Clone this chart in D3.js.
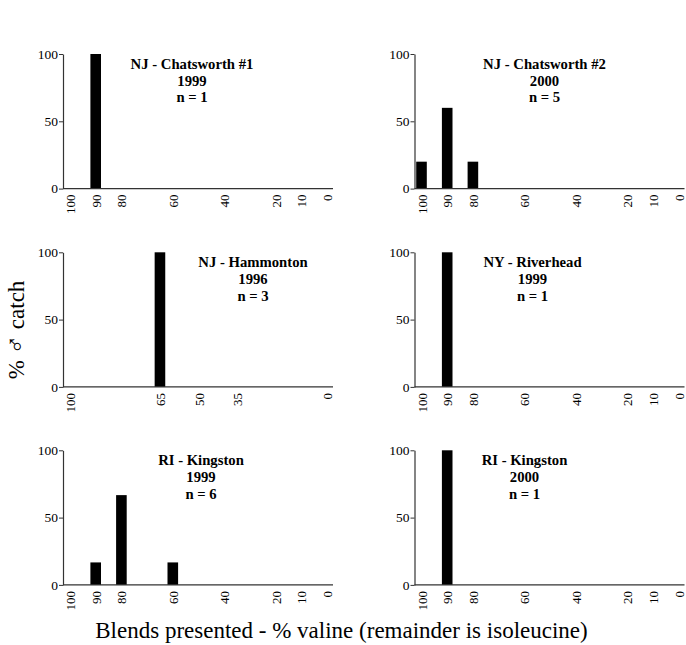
<!DOCTYPE html>
<html>
<head>
<meta charset="utf-8">
<script src="https://cdn.jsdelivr.net/npm/d3@7"></script>
<style>
  html, body { margin: 0; padding: 0; background: #fff; }
  svg { display: block; }
  text { font-family: "Liberation Serif", "Times New Roman", serif; fill: #000; }
</style>
</head>
<body>
<svg id="chart" width="686" height="645"></svg>
<script>
// --- data ---
const siteNames = ["NJ - Chatsworth #1", "NJ - Chatsworth #2", "NJ - Hammonton", "NY - Riverhead", "RI - Kingston", "RI - Kingston"];
const siteYears = ["1999", "2000", "1996", "1999", "1999", "2000"];
const siteN = [1, 5, 3, 1, 6, 1];
const standardBlends = [100, 90, 80, 60, 40, 20, 10, 0];
const hammontonBlends = [100, 65, 50, 35, 0];
const panelBlends = [[90], [100, 90, 80], [65], [90], [90, 80, 60], [90]];
const panelCatch = [[100], [20, 60, 20], [100], [100], [16.7, 66.7, 16.7], [100]];
const catchTicks = [0, 50, 100];

// --- layout ---
const colX = [63, 414.5];
const rowTop = [54, 252.3, 450.3];
const plotH = 134.6;
const axisLen = 270;
const titleDx = [129, 130, 190, 118, 138, 110];

const svg = d3.select("#chart");

siteNames.forEach((name, i) => {
    const col = i % 2, row = Math.floor(i / 2);
    const g = svg.append("g").attr("transform", `translate(${colX[col]},${rowTop[row]})`);

    const x = d3.scaleLinear().domain([100, 0]).range([7, 264]);
    const y = d3.scaleLinear().domain([0, 100]).range([plotH, 0]);
    const ticks = (i === 2) ? hammontonBlends : standardBlends;

    // bars
    const bars = panelBlends[i].map((b, k) => ({ blend: b, pct: panelCatch[i][k] }));
    g.selectAll("rect.bar").data(bars).join("rect")
        .attr("class", "bar")
        .attr("x", d => x(d.blend) - 5.3)
        .attr("width", 10.6)
        .attr("y", d => y(d.pct))
        .attr("height", d => y(0) - y(d.pct))
        .attr("fill", "#000");

    // y axis
    const yAxis = g.append("g").call(d3.axisLeft(y).tickValues(catchTicks).tickSize(4).tickSizeOuter(0).tickPadding(1));
    yAxis.select(".domain").attr("stroke", "#333").attr("stroke-width", 1.2);
    yAxis.selectAll(".tick line").attr("stroke", "#333");
    yAxis.selectAll("text").style("font-size", "13.5px").attr("fill", "#000");

    // x axis baseline
    g.append("line")
        .attr("x1", 0).attr("x2", axisLen)
        .attr("y1", y(0)).attr("y2", y(0))
        .attr("stroke", "#333").attr("stroke-width", 1.2);

    const xAxis = g.append("g").attr("transform", `translate(0,${y(0)})`)
        .call(d3.axisBottom(x).tickValues(ticks).tickSize(0).tickFormat(d3.format("d")));
    xAxis.select(".domain").remove();
    xAxis.selectAll("text")
        .style("font-size", "13px")
        .attr("fill", "#000")
        .attr("text-anchor", "end")
        .attr("transform", "rotate(-90)")
        .attr("x", -6)
        .attr("y", 0)
        .attr("dy", "0.35em");

    // panel title
    const t = g.append("text")
        .attr("x", titleDx[i]).attr("y", 15)
        .attr("text-anchor", "middle")
        .style("font-size", "14.7px")
        .style("font-weight", "bold");
    [name, siteYears[i], "n = " + siteN[i]].forEach((s, k) => {
        t.append("tspan").attr("x", titleDx[i]).attr("dy", k === 0 ? 0 : 16.7).text(s);
    });
});

// axis titles
const yTitle = svg.append("text")
    .attr("transform", "translate(24,330) rotate(-90)")
    .attr("text-anchor", "middle")
    .style("font-size", "23px");
yTitle.append("tspan").text("% ");
yTitle.append("tspan").style("font-size", "26px").text("\u2642");
yTitle.append("tspan").text(" catch");

svg.append("text")
    .attr("x", 341.5).attr("y", 638)
    .attr("text-anchor", "middle")
    .style("font-size", "23px")
    .text("Blends presented - % valine (remainder is isoleucine)");
</script>
</body>
</html>
